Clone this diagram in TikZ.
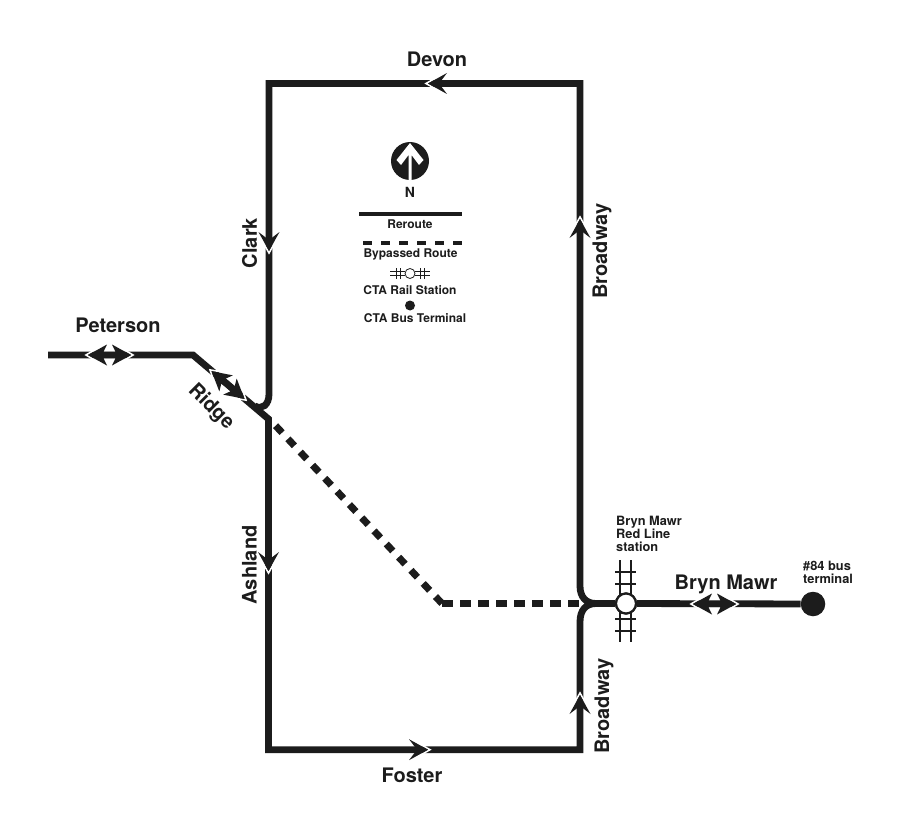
\documentclass[tikz,border=0pt]{standalone}
\usepackage{fontspec}
\setmainfont{TeX Gyre Heros}
\definecolor{ink}{gray}{0.11}
\begin{document}
\begin{tikzpicture}[x=1pt,y=-1pt,
  route/.style={line width=6.8pt,draw=ink,line cap=butt,line join=miter,miter limit=10},
  bypass/.style={line width=7pt,draw=ink,dash pattern=on 11pt off 7pt},
  bypassdiag/.style={line width=7pt,draw=ink,dash pattern=on 9.5pt off 8.5pt},
  lab/.style={font=\bfseries\fontsize{20}{22}\selectfont,text=ink,inner sep=0pt},
  small/.style={font=\bfseries\fontsize{12.8}{13.2}\selectfont,text=ink,inner sep=0pt,align=left},
  legend/.style={font=\bfseries\fontsize{12}{13}\selectfont,text=ink,inner sep=0pt},
  track/.style={line width=2.6pt,draw=ink},
  ltrack/.style={line width=.8pt,draw=ink}]
\useasboundingbox (0,0) rectangle (902,832);
\fill[white] (0,0) rectangle (902,832);
\newcommand{\oneway}[2]{% tip, rotation
  \begin{scope}[shift={#1},rotate=#2]
  \draw[white,line width=1.6pt,line join=miter] (-7,-5) -- (2,0) -- (-7,5);
  \fill[ink] (0,0) -- (-19,-10.5) -- (-11,0) -- (-19,10.5) -- cycle;
  \end{scope}}
\newcommand{\twoway}[2]{%
  \begin{scope}[shift={#1},rotate=#2]
  \draw[white,line width=1.6pt,line join=miter] (-15,-5) -- (-23.5,0) -- (-15,5) (15,-5) -- (23.5,0) -- (15,5);
  \fill[ink] (-21.5,0) -- (-2.5,-10.5) -- (-6,-3.2) -- (6,-3.2) -- (2.5,-10.5) -- (21.5,0) -- (2.5,10.5) -- (6,3.2) -- (-6,3.2) -- (-2.5,10.5) -- cycle;
  \end{scope}}
\coordinate (petW) at (48,355);
\coordinate (petE) at (193,355);
\coordinate (junc) at (268.5,419);
\coordinate (nw) at (269,83.5);
\coordinate (ne) at (580,83.5);
\coordinate (sw) at (268.5,749.7);
\coordinate (se) at (580,749.7);
\coordinate (bypS) at (442,603.5);
\coordinate (bypE) at (579,603.5);
\coordinate (bypW) at (274,424);
\coordinate (stem) at (255,406);
\coordinate (merge) at (596,603.5);
\node[circle,fill=ink,minimum size=24.5pt,inner sep=0pt] (term) at (813,604) {};
\node[circle,draw=ink,fill=white,line width=2.2pt,minimum size=20pt,inner sep=0pt] (st) at (626,603.5) {};
% bypassed route
\draw[bypass] (bypS) -- (bypE);
\draw[bypassdiag] (bypS) -- (bypW);
% reroute
\draw[route] (petW) -- (petE) -- (junc) -- (sw) -- (se) -- (580,622) .. controls (580,610) and (586,603.5) .. (merge);
\draw[route] (stem) .. controls (262,410) and (269,405) .. (269,394) -- (nw) -- (ne) -- (580,586) .. controls (580,597) and (586,603.5) .. (merge);
\draw[route] (merge) -- (st) (st) -- (term);
% tracks at station
\draw[track] (620,560) -- (620,642) (631,560) -- (631,642);
\draw[track] (615,572) -- (636,572) (615,584) -- (636,584) (615,619) -- (636,619) (615,631) -- (636,631);
\node[circle,draw=ink,fill=white,line width=2.2pt,minimum size=20pt,inner sep=0pt] at (626,603.5) {};
% arrows
\oneway{(428,83.5)}{180}
\oneway{(269,251)}{-90}
\oneway{(268.5,571)}{-90}
\oneway{(428,749.7)}{0}
\oneway{(580,219)}{90}
\oneway{(580,695)}{90}
\twoway{(109.5,355)}{0}
\twoway{(228,385)}{-40}
\twoway{(714.5,604)}{0}
% north symbol
\node[circle,fill=ink,minimum size=38pt,inner sep=0pt] (north) at (410,161) {};
\fill[white] (410,143) -- (396.5,160) -- (401,165) -- (408.5,155) -- (408.5,180) -- (411.5,180) -- (411.5,155) -- (419,165) -- (423.5,160) -- cycle;
% legend
\node[legend,font=\bfseries\fontsize{14}{15}\selectfont] (ln) at (410,192) {N};
\coordinate (l1a) at (359,213.5); \coordinate (l1b) at (462,213.5);
\draw[line width=4pt,draw=ink] (l1a) -- (l1b);
\node[legend] (l1) at (410,224.5) {Reroute};
\coordinate (l2a) at (363,242.7); \coordinate (l2b) at (463,242.7);
\draw[line width=4.2pt,draw=ink,dash pattern=on 9.2pt off 8.8pt] (l2a) -- (l2b);
\node[legend] (l2) at (410.5,254.5) {Bypassed Route};
\node[circle,draw=ink,fill=white,line width=.8pt,minimum size=10pt,inner sep=0pt] (ls) at (410,273.5) {};
\draw[ltrack] (390,271.8) -- (ls.west |- 0,271.8) (390,275.2) -- (ls.west |- 0,275.2) (ls.east |- 0,271.8) -- (430,271.8) (ls.east |- 0,275.2) -- (430,275.2);
\draw[ltrack] (396,268) -- (396,279) (400,268) -- (400,279) (420,268) -- (420,279) (424,268) -- (424,279);
\node[legend] (l3) at (410,290) {CTA Rail Station};
\node[circle,fill=ink,minimum size=10pt,inner sep=0pt] (ld) at (410,305.5) {};
\node[legend] (l4) at (415,318.5) {CTA Bus Terminal};
% labels
\node[lab] (a) at (437,59) {Devon};
\node[lab,rotate=90] (b) at (249.5,243) {Clark};
\node[lab,rotate=90] (c) at (602,251) {Broadway};
\node[lab] (d) at (118,325) {Peterson};
\node[lab,rotate=-45] (e) at (211,407) {Ridge};
\node[lab,rotate=90] (f) at (249.5,565) {Ashland};
\node[lab] (g) at (412,775) {Foster};
\node[lab,rotate=90] (h) at (604,706) {Broadway};
\node[lab] (i) at (726,584) {Bryn Mawr};
\node[small,anchor=north west] (j) at (616,516) {Bryn Mawr\\Red Line\\station};
\node[small,anchor=north west] (k) at (803,561) {\#84 bus\\terminal};
\end{tikzpicture}
\end{document}
